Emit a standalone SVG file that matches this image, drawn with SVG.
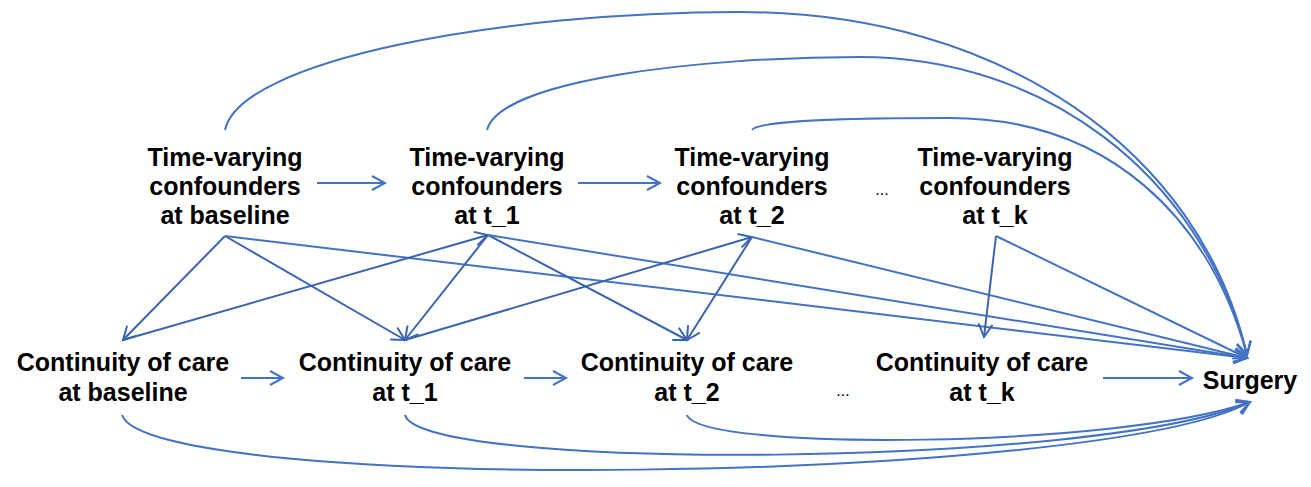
<svg xmlns="http://www.w3.org/2000/svg" width="1311" height="487" viewBox="0 0 1311 487">
<style>
  .lbl { font-family: "Liberation Sans", Arial, sans-serif; font-weight: bold; font-size: 25px; fill: #000; text-anchor: middle; }
  .dots { font-family: "Liberation Sans", Arial, sans-serif; font-size: 16px; fill: #000; text-anchor: middle; }
  .e { fill: none; stroke: #4472C4; stroke-width: 2; marker-end: url(#ah); }
  .d { fill: none; stroke: #3A64B0; stroke-width: 2; marker-end: url(#ahd); }
</style>
<defs>
  <marker id="ah" markerUnits="userSpaceOnUse" viewBox="-15 -9 18 18" refX="0" refY="0" markerWidth="18" markerHeight="18" orient="auto">
    <path d="M-13,-7 L0,0 L-13,7" fill="none" stroke="#4472C4" stroke-width="2"/>
  </marker>
  <marker id="ahd" markerUnits="userSpaceOnUse" viewBox="-15 -9 18 18" refX="0" refY="0" markerWidth="18" markerHeight="18" orient="auto">
    <path d="M-13,-7 L0,0 L-13,7" fill="none" stroke="#3A64B0" stroke-width="2"/>
  </marker>
</defs>
<rect width="1311" height="487" fill="#fff"/>
<g id="connectors">
  <path class="e" d="M317,183 L385,183"/>
  <path class="e" d="M578,183 L660,183"/>
  <path class="e" d="M241,378 L283,378"/>
  <path class="e" d="M524,378 L566,378"/>
  <path class="e" d="M1103,378 L1192,378"/>
  <path class="d" d="M225,236 L123,340"/>
  <path class="d" d="M225,236 L405,340"/>
  <path class="e" d="M225,236 L1247,358"/>
  <path class="d" d="M123,340 L488,235"/>
  <path class="d" d="M488,235 L405,340"/>
  <path class="d" d="M488,235 L687,340"/>
  <path class="e" d="M488,235 L1247,358"/>
  <path class="d" d="M405,340 L752,237"/>
  <path class="d" d="M752,237 L687,340"/>
  <path class="e" d="M752,237 L1247,358"/>
  <path class="d" d="M996,236 L984,337"/>
  <path class="e" d="M996,236 L1247,358"/>
  <path class="e" d="M225,130 C240,60 500,12 740,12 C1000,12 1200,150 1247,355"/>
  <path class="e" d="M487,130 C500,80 700,57 860,57 C1040,57 1200,170 1247,355"/>
  <path class="e" d="M752,130 C760,120 850,118 950,118 C1110,118 1210,220 1247,355"/>
  <path class="e" d="M122,415 C150,495 1100,485 1250,402"/>
  <path class="e" d="M405,415 C420,472 1100,468 1250,402"/>
  <path class="e" d="M687,415 C700,452 1120,448 1250,402"/>
</g>
<g id="tv-baseline"><text class="lbl" x="225" y="166">Time-varying</text><text class="lbl" x="225" y="195">confounders</text><text class="lbl" x="225" y="224">at baseline</text></g>
<g id="tv-t1"><text class="lbl" x="487" y="166">Time-varying</text><text class="lbl" x="487" y="195">confounders</text><text class="lbl" x="487" y="224">at t_1</text></g>
<g id="tv-t2"><text class="lbl" x="752" y="166">Time-varying</text><text class="lbl" x="752" y="195">confounders</text><text class="lbl" x="752" y="224">at t_2</text></g>
<g id="tv-dots"><text class="dots" x="882" y="195">...</text></g>
<g id="tv-tk"><text class="lbl" x="995" y="166">Time-varying</text><text class="lbl" x="995" y="195">confounders</text><text class="lbl" x="995" y="224">at t_k</text></g>
<g id="coc-baseline"><text class="lbl" x="123" y="371">Continuity of care</text><text class="lbl" x="123" y="401">at baseline</text></g>
<g id="coc-t1"><text class="lbl" x="405" y="371">Continuity of care</text><text class="lbl" x="405" y="401">at t_1</text></g>
<g id="coc-t2"><text class="lbl" x="687" y="371">Continuity of care</text><text class="lbl" x="687" y="401">at t_2</text></g>
<g id="coc-dots"><text class="dots" x="843" y="396">...</text></g>
<g id="coc-tk"><text class="lbl" x="982" y="371">Continuity of care</text><text class="lbl" x="982" y="401">at t_k</text></g>
<g id="surgery"><text class="lbl" x="1250" y="389">Surgery</text></g>
</svg>
